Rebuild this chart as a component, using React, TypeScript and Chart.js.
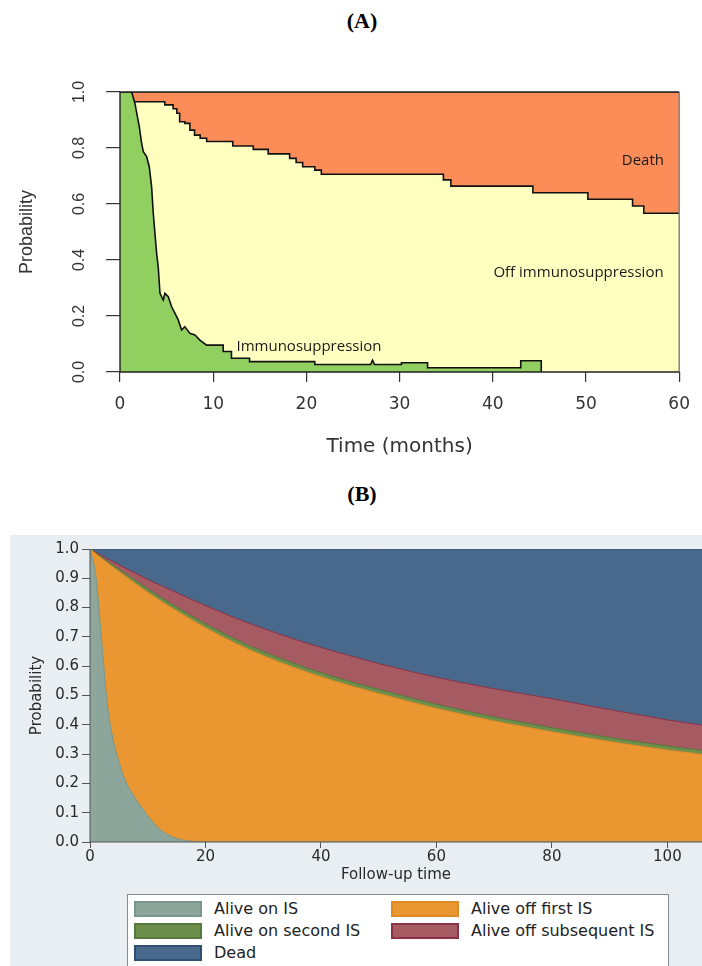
import React, { useEffect, useRef } from "react";
import { Chart, registerables } from "chart.js";

Chart.register(...registerables);

// ---------------- Panel A data (multi-state, months) ----------------
const timeTicksA = [0, 10, 20, 30, 40, 50, 60];
const probTicksA = [0, 0.2, 0.4, 0.6, 0.8, 1.0];
// boundary between "Immunosuppression" (below) and "Off immunosuppression" (above): polyline vertices
const isTimeA = [0, 1.25, 1.6, 1.8, 2.07, 2.32, 2.5, 2.86, 3.14, 3.39, 3.57, 3.75, 3.93, 4.1, 4.29, 4.64, 4.82, 5.18, 5.54, 5.89, 6.25, 6.61, 6.96, 7.5, 8.04, 8.57, 9.29, 11.07, 11.07, 11.96, 11.96, 13.9, 13.9, 20.9, 20.9, 26.9, 27.1, 27.3, 30.2, 30.2, 33.0, 33.0, 43.0, 43.0, 45.2, 45.2];
const isProbA = [1.0, 1.0, 0.96, 0.924, 0.876, 0.817, 0.787, 0.769, 0.733, 0.662, 0.567, 0.495, 0.424, 0.376, 0.281, 0.257, 0.281, 0.269, 0.233, 0.21, 0.186, 0.15, 0.162, 0.138, 0.132, 0.114, 0.096, 0.096, 0.073, 0.073, 0.049, 0.049, 0.037, 0.037, 0.027, 0.027, 0.042, 0.027, 0.027, 0.033, 0.033, 0.015, 0.015, 0.040, 0.040, 0.0];
// boundary between "Off immunosuppression" (below) and "Death" (above): step times and new values
const offTimeA = [0, 1.25, 4.8, 5.7, 6.1, 6.4, 6.96, 7.5, 8.0, 8.6, 9.3, 12.1, 14.3, 15.9, 18.2, 18.9, 19.6, 20.9, 21.6, 34.7, 35.5, 44.3, 50.2, 55.0, 56.2, 60];
const offProbA = [1.0, 0.965, 0.954, 0.94, 0.924, 0.894, 0.888, 0.864, 0.846, 0.835, 0.823, 0.807, 0.795, 0.779, 0.763, 0.748, 0.733, 0.721, 0.706, 0.686, 0.664, 0.640, 0.617, 0.593, 0.567, 0.567];
const deathTimeA = [0, 60];
const deathProbA = [1, 1];
const stateLabelsA = ["Immunosuppression", "Off immunosuppression", "Death"];

// ---------------- Panel B data (follow-up time) ----------------
const followUpB = [0, 1, 2, 3, 4, 5, 6, 8, 10, 12, 14, 16, 18, 20, 25, 30, 35, 40, 45, 50, 60, 70, 80, 90, 100, 106];
const aliveOnISB = [1.0, 0.91, 0.69, 0.47, 0.35, 0.275, 0.215, 0.145, 0.09, 0.045, 0.02, 0.007, 0.002, 0, 0, 0, 0, 0, 0, 0, 0, 0, 0, 0, 0, 0];
const aliveOffFirstTopB = [1.0, 0.984, 0.968, 0.953, 0.938, 0.923, 0.909, 0.88, 0.852, 0.826, 0.801, 0.777, 0.754, 0.731, 0.68, 0.636, 0.598, 0.564, 0.534, 0.507, 0.456, 0.413, 0.376, 0.343, 0.314, 0.299];
const aliveOnSecondTopB = [1.0, 0.986, 0.972, 0.958, 0.945, 0.931, 0.918, 0.891, 0.864, 0.839, 0.814, 0.79, 0.767, 0.745, 0.694, 0.65, 0.612, 0.578, 0.548, 0.521, 0.47, 0.427, 0.39, 0.357, 0.328, 0.313];
const aliveOffSubsequentTopB = [1.0, 0.989, 0.978, 0.967, 0.957, 0.946, 0.936, 0.916, 0.896, 0.878, 0.86, 0.842, 0.824, 0.807, 0.766, 0.729, 0.695, 0.664, 0.636, 0.609, 0.562, 0.523, 0.489, 0.452, 0.417, 0.399];
const deadTopB = [1, 1, 1, 1, 1, 1, 1, 1, 1, 1, 1, 1, 1, 1, 1, 1, 1, 1, 1, 1, 1, 1, 1, 1, 1, 1];
const timeTicksB = [0, 20, 40, 60, 80, 100];
const probTicksB = [0, 0.1, 0.2, 0.3, 0.4, 0.5, 0.6, 0.7, 0.8, 0.9, 1.0];
const legendLabelsB = ["Alive on IS", "Alive off first IS", "Alive on second IS", "Alive off subsequent IS", "Dead"];
const legendFillB = ["#8da69b", "#ea9631", "#6e8f4c", "#a65a62", "#48698b"];
const legendEdgeB = ["#7b978b", "#e08a26", "#557a3b", "#8c3247", "#2f5074"];

const pts = (xs: number[], ys: number[]) => xs.map((x, i) => ({ x, y: ys[i] }));

const frameA = {
  id: "frameA",
  afterDatasetsDraw(chart: any) {
    const { ctx, chartArea } = chart;
    const { left, right, top, bottom } = chartArea;
    ctx.save();
    ctx.lineWidth = 1.4;
    ctx.strokeStyle = "#7a7a7a";
    ctx.beginPath();
    ctx.moveTo(right, top);
    ctx.lineTo(right, bottom);
    ctx.stroke();
    ctx.strokeStyle = "#222";
    ctx.beginPath();
    ctx.moveTo(right, top);
    ctx.lineTo(left, top);
    ctx.lineTo(left, bottom);
    ctx.lineTo(right, bottom);
    ctx.stroke();
    // state labels
    const xs = chart.scales.x;
    const ys = chart.scales.y;
    ctx.fillStyle = "#1a1a1a";
    ctx.textBaseline = "middle";
    ctx.font = '15px "Open Sans"';
    ctx.textAlign = "left";
    ctx.fillText(stateLabelsA[0], xs.getPixelForValue(12.5), ys.getPixelForValue(0.089));
    ctx.textAlign = "center";
    ctx.fillText(stateLabelsA[1], xs.getPixelForValue(49.2), ys.getPixelForValue(0.354));
    ctx.fillText(stateLabelsA[2], xs.getPixelForValue(56.1), ys.getPixelForValue(0.754));
    ctx.restore();
  },
};

const frameB = {
  id: "frameB",
  afterDatasetsDraw(chart: any) {
    const { ctx, chartArea } = chart;
    const { left, right, bottom, top } = chartArea;
    ctx.save();
    ctx.lineWidth = 1;
    ctx.strokeStyle = "#555";
    ctx.beginPath();
    ctx.moveTo(left, top);
    ctx.lineTo(left, bottom);
    ctx.lineTo(right, bottom);
    ctx.stroke();
    ctx.restore();
  },
};

function PanelA() {
  const ref = useRef<HTMLCanvasElement>(null);
  useEffect(() => {
    const chart = new Chart(ref.current as HTMLCanvasElement, {
      type: "line",
      data: {
        datasets: [
          {
            label: stateLabelsA[0],
            data: pts(isTimeA, isProbA),
            backgroundColor: "#91cf60",
            borderColor: "#111",
            borderWidth: 1.6,
            fill: "origin",
            pointRadius: 0,
            tension: 0,
          },
          {
            label: stateLabelsA[1],
            data: pts(offTimeA, offProbA),
            backgroundColor: "#ffffbf",
            borderColor: "#111",
            borderWidth: 1.6,
            fill: "origin",
            pointRadius: 0,
            stepped: true,
          },
          {
            label: stateLabelsA[2],
            data: pts(deathTimeA, deathProbA),
            backgroundColor: "#fc8d59",
            borderColor: "#222",
            borderWidth: 1,
            fill: "origin",
            pointRadius: 0,
          },
        ],
      } as any,
      options: {
        responsive: false,
        animation: false,
        events: [],
        layout: { padding: { top: 92, right: 22, left: 0, bottom: 8 } },
        plugins: { legend: { display: false }, tooltip: { enabled: false } },
        scales: {
          x: {
            type: "linear",
            min: 0,
            max: 60,
            afterFit: (s: any) => { s.height = 90; },
            afterBuildTicks: (s: any) => { s.ticks = timeTicksA.map((v) => ({ value: v })); },
            border: { display: false },
            grid: { drawOnChartArea: false, drawTicks: true, tickLength: 10, color: "#333", lineWidth: 1.2 },
            ticks: { color: "#333", padding: 12, font: { family: "DejaVu Sans", size: 17 }, callback: (v: any) => String(v) },
            title: { display: true, text: "Time (months)", color: "#333", font: { family: "DejaVu Sans", size: 20 }, padding: { top: 0, bottom: 3 } },
          },
          y: {
            type: "linear",
            min: 0,
            max: 1,
            afterFit: (s: any) => { s.width = 120; },
            afterBuildTicks: (s: any) => { s.ticks = probTicksA.map((v) => ({ value: v })); },
            border: { display: false },
            grid: { drawOnChartArea: false, drawTicks: true, tickLength: 14, color: "#333", lineWidth: 1.2 },
            ticks: { color: "#333", padding: 15, minRotation: 90, maxRotation: 90, crossAlign: "center", font: { family: "Liberation Sans", size: 16 }, callback: (v: any) => Number(v).toFixed(1) },
            title: { display: true, text: "Probability", color: "#333", font: { family: "Liberation Sans", size: 18 }, padding: { top: 16, bottom: 0 } },
          },
        },
      } as any,
      plugins: [frameA],
    });
    return () => chart.destroy();
  }, []);
  return (
    <canvas
      ref={ref}
      width={702}
      height={470}
      style={{ position: "absolute", left: 0, top: 0, width: 702, height: 470 }}
    />
  );
}

function PanelB() {
  const ref = useRef<HTMLCanvasElement>(null);
  useEffect(() => {
    const series = [aliveOnISB, aliveOffFirstTopB, aliveOnSecondTopB, aliveOffSubsequentTopB, deadTopB];
    const chart = new Chart(ref.current as HTMLCanvasElement, {
      type: "line",
      data: {
        datasets: series.map((s, i) => ({
          label: legendLabelsB[i],
          data: pts(followUpB, s),
          backgroundColor: legendFillB[i],
          borderColor: legendEdgeB[i],
          borderWidth: 1,
          fill: "origin",
          pointRadius: 0,
          cubicInterpolationMode: "monotone",
        })),
      } as any,
      options: {
        responsive: false,
        animation: false,
        events: [],
        layout: { padding: { top: 14, right: 0, left: 0, bottom: 0 } },
        plugins: { legend: { display: false }, tooltip: { enabled: false } },
        scales: {
          x: {
            type: "linear",
            min: 0,
            max: 106,
            afterFit: (s: any) => { s.height = 48; },
            afterBuildTicks: (s: any) => { s.ticks = timeTicksB.map((v) => ({ value: v })); },
            border: { display: false },
            grid: { drawOnChartArea: false, drawTicks: true, tickLength: 6, color: "#555" },
            ticks: { color: "#2a2a2a", padding: 0, font: { family: "DejaVu Sans", size: 15 }, callback: (v: any) => String(v) },
            title: { display: true, text: "Follow-up time", color: "#2a2a2a", font: { family: "DejaVu Sans", size: 15 }, padding: { top: 0, bottom: 6 } },
          },
          y: {
            type: "linear",
            min: 0,
            max: 1,
            afterFit: (s: any) => { s.width = 80; },
            afterBuildTicks: (s: any) => { s.ticks = probTicksB.map((v) => ({ value: v })); },
            border: { display: false },
            grid: { drawOnChartArea: false, drawTicks: true, tickLength: 8, color: "#555" },
            ticks: { color: "#2a2a2a", padding: 3, font: { family: "DejaVu Sans", size: 15 }, callback: (v: any) => Number(v).toFixed(1) },
            title: { display: true, text: "Probability", color: "#2a2a2a", font: { family: "DejaVu Sans", size: 15 }, padding: { top: 18, bottom: 0 } },
          },
        },
      } as any,
      plugins: [frameB],
    });
    return () => chart.destroy();
  }, []);
  return (
    <canvas
      ref={ref}
      width={692}
      height={355}
      style={{ position: "absolute", left: 0, top: 0, width: 692, height: 355 }}
    />
  );
}

function LegendB() {
  const rows = [
    [0, 1],
    [2, 3],
    [4],
  ];
  return (
    <div
      style={{
        position: "absolute",
        left: 117,
        top: 359,
        width: 542,
        height: 90,
        background: "#fff",
        border: "1px solid #8a8a8a",
        boxSizing: "border-box",
        fontFamily: "DejaVu Sans",
        fontSize: 16,
        color: "#222",
      }}
    >
      {rows.map((r, ri) =>
        r.map((idx, ci) => (
          <React.Fragment key={idx}>
            <div
              style={{
                position: "absolute",
                left: ci === 0 ? 6 : 263,
                top: 14 + ri * 22 - 8,
                width: 68,
                height: 16,
                boxSizing: "border-box",
                background: legendFillB[idx],
                border: `2px solid ${legendEdgeB[idx]}`,
              }}
            />
            <div
              style={{
                position: "absolute",
                left: ci === 0 ? 86 : 343,
                top: 14 + ri * 22 - 10,
                height: 20,
                lineHeight: "20px",
                whiteSpace: "nowrap",
              }}
            >
              {legendLabelsB[idx]}
            </div>
          </React.Fragment>
        ))
      )}
    </div>
  );
}

export default function App() {
  return (
    <div
      style={{
        position: "absolute",
        left: 0,
        top: 0,
        width: 702,
        height: 966,
        overflow: "hidden",
        background: "#fff",
      }}
    >
      <div
        style={{
          position: "absolute",
          left: 0,
          width: 702,
          top: 8,
          textAlign: "center",
          fontFamily: "Liberation Serif",
          fontWeight: "bold",
          fontSize: 22,
          lineHeight: "26px",
          color: "#000",
        }}
      >
        <span style={{ position: "relative", left: 11 }}>(A)</span>
      </div>
      <PanelA />
      <div
        style={{
          position: "absolute",
          left: 0,
          width: 702,
          top: 481,
          textAlign: "center",
          fontFamily: "Liberation Serif",
          fontWeight: "bold",
          fontSize: 22,
          lineHeight: "26px",
          color: "#000",
        }}
      >
        <span style={{ position: "relative", left: 11 }}>(B)</span>
      </div>
      <div
        style={{
          position: "absolute",
          left: 10,
          top: 535,
          width: 692,
          height: 431,
          background: "#e8eef1",
          overflow: "hidden",
        }}
      >
        <PanelB />
        <LegendB />
      </div>
    </div>
  );
}
